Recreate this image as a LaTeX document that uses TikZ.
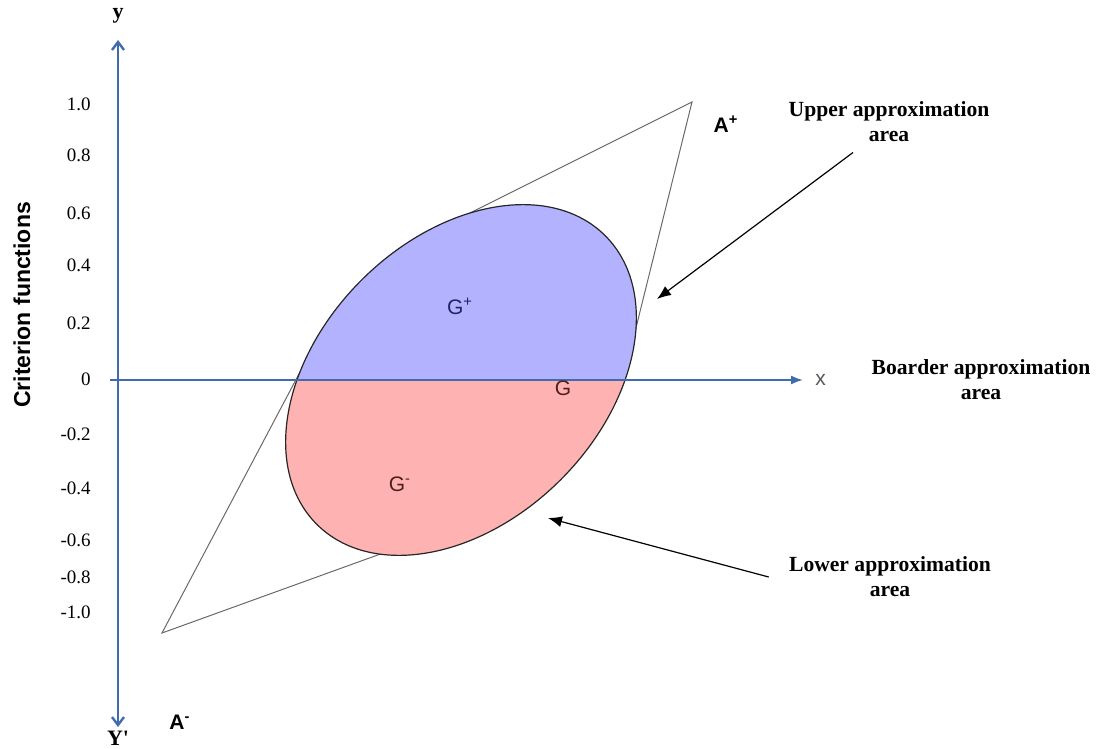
\documentclass[tikz,border=0pt]{standalone}
\usepackage{fontspec}
\setmainfont{Liberation Serif}
\setsansfont{Liberation Sans}
\definecolor{axisBlue}{RGB}{64,108,174}
\definecolor{upperFill}{RGB}{178,178,255}
\definecolor{lowerFill}{RGB}{255,178,178}
\definecolor{quadGray}{RGB}{105,105,105}
\definecolor{gNavy}{RGB}{35,35,100}
\definecolor{gBrown}{RGB}{80,30,30}
\usetikzlibrary{arrows.meta,positioning,calc}

\begin{document}
\begin{tikzpicture}[x=0.5pt, y=-0.5pt,
  tick/.style={anchor=east, inner sep=0pt, font=\fontsize{9.5}{11}\selectfont},
  note/.style={inner sep=0pt, align=center, font=\fontsize{10.8}{12.5}\selectfont\bfseries},
  glabel/.style={inner sep=0pt, font=\sffamily\fontsize{10.5}{12}\selectfont},
  alabel/.style={inner sep=0pt, font=\sffamily\bfseries\fontsize{10.5}{12}\selectfont},
  axlabel/.style={inner sep=0pt, font=\fontsize{11}{12}\selectfont\bfseries},
  noteArrow/.style={-{Latex[length=7pt,width=5.5pt]}, line width=0.6pt}
]
  \useasboundingbox (0,0) rectangle (1098,749);

  % corners of the approximation quadrilateral (inner ones hidden by G)
  \coordinate (Aplus)  at (692,102);
  \coordinate (Aminus) at (162,633);
  \coordinate (qLa)    at (300,372);
  \coordinate (qLb)    at (440,228);
  \coordinate (qRa)    at (628,360);
  \coordinate (qRb)    at (480,518);
  \draw[quadGray, line width=0.5pt] (Aminus) -- (qLa) -- (qLb) -- (Aplus) -- (qRa) -- (qRb) -- cycle;

  % the set G, upper and lower half
  \coordinate (g) at (461,380);
  \begin{scope}
    \clip[rotate around={45:(g)}] (g) ellipse [x radius=102pt, y radius=70.5pt];
    \fill[upperFill] (240,150) rectangle (700,380);
    \fill[lowerFill] (240,380) rectangle (700,620);
  \end{scope}
  \draw[black!85, line width=0.6pt, rotate around={45:(g)}] (g) ellipse [x radius=102pt, y radius=70.5pt];

  % axes
  \coordinate (yTop) at (118,40);
  \coordinate (yBot) at (118,727);
  \coordinate (xL)   at (110,380);
  \coordinate (xR)   at (803,380);
  \draw[axisBlue, line width=1.2pt, {Straight Barb[length=4pt,width=6pt]}-{Straight Barb[length=4pt,width=6pt]}] (yBot) -- (yTop);
  \draw[axisBlue, line width=0.9pt, -{Latex[length=6pt,width=4.5pt]}] (xL) -- (xR);

  \node[axlabel] (ylab)  at (118,16)  {y};
  \node[axlabel] (yplab) at (118,738) {Y\textquotesingle};
  \node[glabel, text=black!65, right=6pt of xR] (xlab) {x};
  \node[inner sep=0pt, rotate=90, font=\sffamily\bfseries\fontsize{11.5}{13}\selectfont] (crit) at (22,305) {Criterion functions};

  \foreach \v/\yy in {1.0/104, 0.8/155, 0.6/213, 0.4/265, 0.2/323, 0/379,
                      -0.2/434, -0.4/488, -0.6/540, -0.8/577, -1.0/612}
    \node[tick] (t\yy) at (91,\yy) {\v};

  % labels of the sets
  \node[glabel, text=gNavy]  (gplus)  at (460,306) {G\textsuperscript{+}};
  \node[glabel, text=gBrown] (gminus) at (400,484) {G\textsuperscript{-}};
  \node[glabel, text=gBrown] (gmid)   at (563,388) {G};
  \node[alabel] (aplus)  at (726,124) {A\textsuperscript{+}};
  \node[alabel] (aminus) at (180,722) {A\textsuperscript{-}};

  % area notes
  \node[note] (upper)   at (889,122) {Upper approximation\\area};
  \node[note] (boarder) at (981,380) {Boarder approximation\\area};
  \node[note] (lower)   at (890,577) {Lower approximation\\area};

  \coordinate (upTip)  at (657,299);
  \coordinate (lowTip) at (548,518);
  \draw[noteArrow] ([xshift=-18pt,yshift=-5pt]upper.south) -- (upTip);
  \draw[noteArrow] ([xshift=-10pt]lower.west) -- (lowTip);
\end{tikzpicture}
\end{document}
